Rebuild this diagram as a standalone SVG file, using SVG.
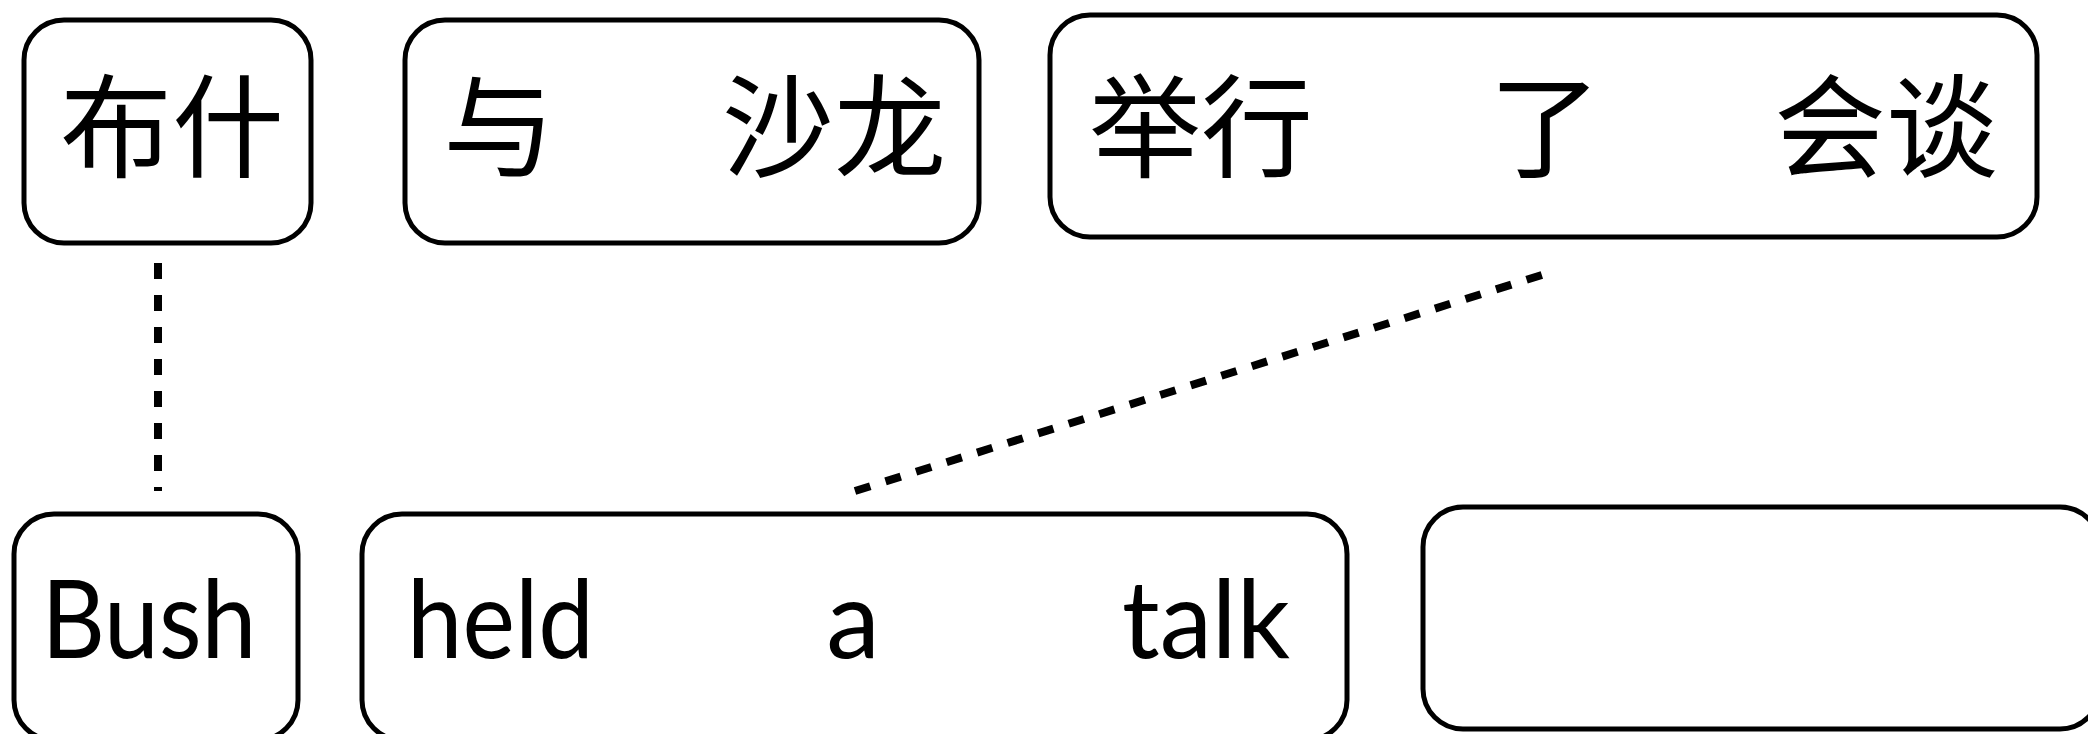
<svg xmlns="http://www.w3.org/2000/svg" width="2088" height="734" viewBox="0 0 2088 734">
<style>
.box{fill:#fff;stroke:#000;stroke-width:5}
.zh{font-family:"Noto Sans CJK SC","Noto Sans CJK TC",sans-serif;font-size:112px;fill:#000;text-anchor:middle}
.en{font-family:Lato,"Liberation Sans",sans-serif;font-size:108px;fill:#000;text-anchor:middle}
.conn{stroke:#000;stroke-width:8;stroke-dasharray:16 16;fill:none}
</style>
<rect width="2088" height="734" fill="#fff"/>
<g id="n1"><rect class="box" x="24" y="20" width="287" height="223" rx="40"/><text class="zh" x="172" y="169">布什</text></g>
<g id="n2"><rect class="box" x="405" y="20" width="574" height="223" rx="40"/><text class="zh" y="169"><tspan x="499">与</tspan><tspan x="834">沙龙</tspan></text></g>
<g id="n3"><rect class="box" x="1050" y="15" width="987" height="222" rx="40"/><text class="zh" y="169"><tspan x="1201">举行</tspan><tspan x="1545">了</tspan><tspan x="1886">会谈</tspan></text></g>
<g id="n4"><rect class="box" x="14" y="514" width="284" height="226" rx="40"/><text class="en" x="149" y="658" textLength="215" lengthAdjust="spacingAndGlyphs">Bush</text></g>
<g id="n5"><rect class="box" x="362" y="514" width="985" height="226" rx="40"/><text class="en" x="500.5" y="658" textLength="187" lengthAdjust="spacingAndGlyphs">held</text><text class="en" x="853" y="658">a</text><text class="en" x="1206" y="658" textLength="168" lengthAdjust="spacingAndGlyphs">talk</text></g>
<g id="n6"><rect class="box" x="1423" y="507" width="677" height="222" rx="40"/></g>
<g id="connectors">
<line class="conn" x1="158" y1="263" x2="158" y2="491"/>
<line class="conn" x1="855" y1="491" x2="1545" y2="274"/>
</g>
</svg>
